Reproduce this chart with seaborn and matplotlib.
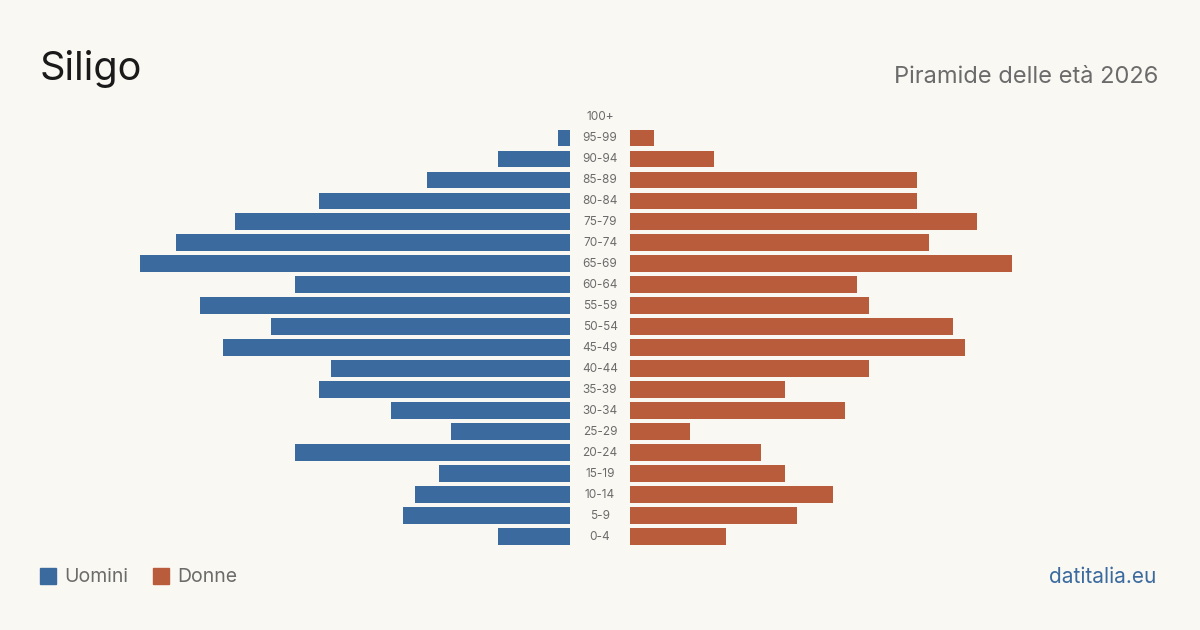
import matplotlib
matplotlib.use("Agg")
import matplotlib.pyplot as plt
import matplotlib.transforms as mtransforms
from matplotlib.patches import Rectangle
import seaborn as sns
import pandas as pd

ages = ["100+", "95-99", "90-94", "85-89", "80-84", "75-79", "70-74", "65-69",
        "60-64", "55-59", "50-54", "45-49", "40-44", "35-39", "30-34", "25-29",
        "20-24", "15-19", "10-14", "5-9", "0-4"]
uomini = [0, 1, 6, 12, 21, 28, 33, 36, 23, 31, 25, 29, 20, 21, 15, 10, 23, 11, 13, 14, 6]
donne = [0, 2, 7, 24, 24, 29, 25, 32, 19, 20, 27, 28, 20, 13, 18, 5, 11, 13, 17, 14, 8]

BLUE = "#3b6b9e"
ORANGE = "#b95c3c"
BG = "#faf8f3"
GRAY = "#6b6b6b"

sns.set_theme(style="white")
plt.rcParams["font.family"] = ["Inter", "DejaVu Sans"]

df = pd.DataFrame({"age": ages, "uomini": uomini, "donne": donne})

fig = plt.figure(figsize=(12, 6.3), dpi=100, facecolor=BG)
W, H = 1200, 630
top_px, bot_px = 106.5, 547.0
ax_b = (H - bot_px) / H
ax_h = (bot_px - top_px) / H
XMAX = 530 / 11.95

axL = fig.add_axes([40 / W, ax_b, 530 / W, ax_h])
axR = fig.add_axes([630 / W, ax_b, 530 / W, ax_h])

sns.barplot(data=df, x="uomini", y="age", order=ages, color=BLUE, width=0.8,
            saturation=1, linewidth=0, ax=axL)
sns.barplot(data=df, x="donne", y="age", order=ages, color=ORANGE, width=0.8,
            saturation=1, linewidth=0, ax=axR)

axL.set_xlim(XMAX, 0)
axR.set_xlim(0, XMAX)
for ax in (axL, axR):
    ax.set_ylim(len(ages) - 0.5, -0.5)
    ax.set_facecolor("none")
    ax.set_xticks([])
    ax.set_yticks([])
    ax.set_xlabel("")
    ax.set_ylabel("")
    for s in ax.spines.values():
        s.set_visible(False)

tr = mtransforms.blended_transform_factory(fig.transFigure, axL.transData)
for i, a in enumerate(ages):
    axL.text(600 / W, i, a, transform=tr, ha="center", va="center",
             fontsize=8.5, color=GRAY, clip_on=False)

fig.text(40 / W, 1 - 69 / H, "Siligo", fontsize=28.5, color="#1a1a1a",
         ha="left", va="center")
fig.text(1158 / W, 1 - 77 / H, "Piramide delle età 2026", fontsize=17,
         color=GRAY, ha="right", va="center")

# legend
fig.patches.append(Rectangle((40 / W, 1 - 584 / H), 16 / W, 16 / H,
                             transform=fig.transFigure, color=BLUE))
fig.text(64 / W, 1 - 577 / H, "Uomini", fontsize=14, color=GRAY,
         ha="left", va="center")
fig.patches.append(Rectangle((153 / W, 1 - 584 / H), 16 / W, 16 / H,
                             transform=fig.transFigure, color=ORANGE))
fig.text(177 / W, 1 - 577 / H, "Donne", fontsize=14, color=GRAY,
         ha="left", va="center")

fig.text(1156 / W, 1 - 577 / H, "datitalia.eu", fontsize=15, color=BLUE,
         ha="right", va="center")

fig.savefig("out.png", dpi=100, facecolor=BG)
